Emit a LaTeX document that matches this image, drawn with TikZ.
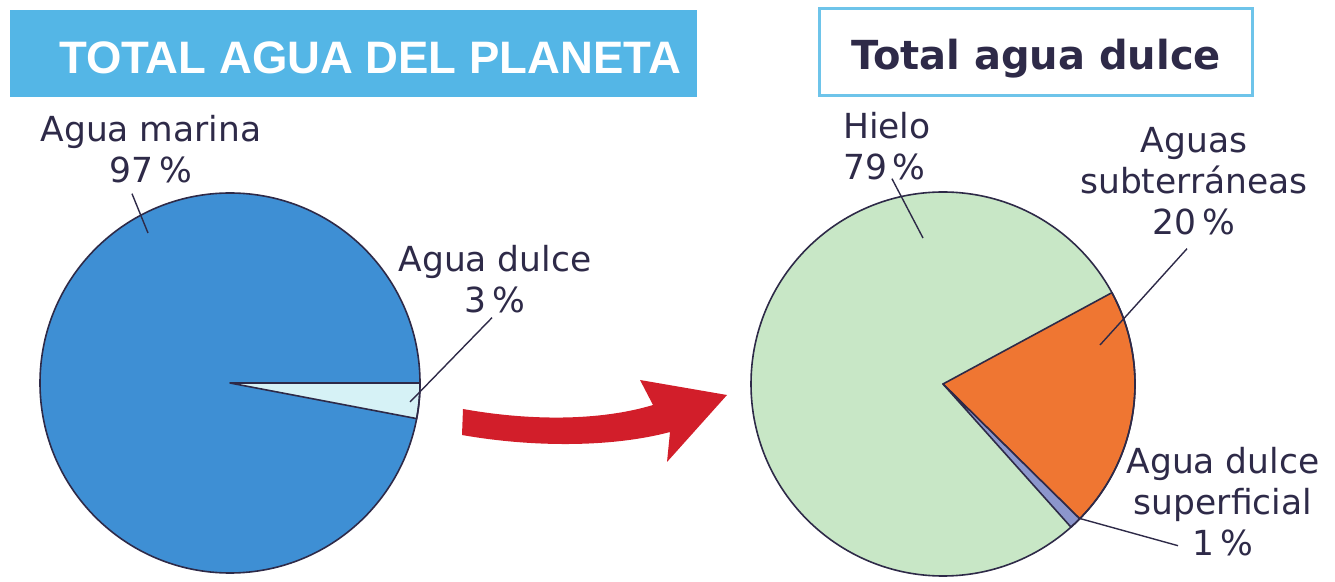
\documentclass[tikz,border=0pt]{standalone}
\usepackage{fontspec}
\setmainfont{DejaVu Sans}
\newfontfamily\barfont{Liberation Sans}

\definecolor{barblue}{RGB}{84,182,230}
\definecolor{framecyan}{RGB}{110,196,234}
\definecolor{seablue}{RGB}{62,143,212}
\definecolor{freshcyan}{RGB}{214,242,246}
\definecolor{icegreen}{RGB}{200,231,198}
\definecolor{groundorange}{RGB}{239,118,50}
\definecolor{surfblue}{RGB}{140,150,204}
\definecolor{inkdark}{RGB}{46,42,72}
\definecolor{arrowred}{RGB}{210,30,42}

\begin{document}
\begin{tikzpicture}[x=1pt, y=1pt,
	piece/.style = {draw = inkdark, line width = 1.6pt, line join = round},
	leader/.style = {draw = inkdark, line width = 1.4pt},
	lbl/.style = {font = \fontsize{34.5}{41}\selectfont, text = inkdark, align = center, inner sep = 0pt}]
	\useasboundingbox (0, 0) rectangle (1335, 581);

	% titles
	\node [fill = barblue, minimum width = 687pt, minimum height = 87pt, inner sep = 0pt] (bar) at (353.5, 527.5) {};
	\node [font = \barfont\bfseries\fontsize{45.5}{45.5}\selectfont, text = white, anchor = base, inner sep = 0pt] (bartext) at (370, 507) {TOTAL AGUA DEL PLANETA};

	\node [draw = framecyan, line width = 3pt, minimum width = 433pt, minimum height = 87pt, inner sep = 0pt] (frame) at (1036, 529) {};
	\node [font = \bfseries\fontsize{40}{40}\selectfont, text = inkdark, anchor = base, inner sep = 0pt] (frametext) at (1036, 511) {Total agua dulce};

	% left pie
	\coordinate (lc) at (230, 198);
	\fill [seablue] (lc) circle (190pt);
	\filldraw [piece, fill = freshcyan] (lc) -- ++(0:190pt) arc (0:-10.8:190pt) -- cycle;
	\draw [piece] (lc) circle (190pt);

	% right pie
	\coordinate (rc) at (943, 197);
	\fill [icegreen] (rc) circle (192pt);
	\filldraw [piece, fill = groundorange] (rc) -- ++(-44.6:192pt) arc (-44.6:28.4:192pt) -- cycle;
	\filldraw [piece, fill = surfblue] (rc) -- ++(-48.2:192pt) arc (-48.2:-44.6:192pt) -- cycle;
	\draw [piece] (rc) circle (192pt);

	% labels
	\node [lbl, anchor = base] (marina) at (151, 398) {Agua marina\\97\,\%};
	\node [lbl, anchor = base] (dulce) at (495, 268) {Agua dulce\\3\,\%};
	\node [lbl, align = left, anchor = base west] (hielo) at (843, 401) {Hielo\\79\,\%};
	\node [lbl, anchor = base] (subt) at (1194, 346) {Aguas\\subterráneas\\20\,\%};
	\node [lbl, anchor = base] (superficial) at (1223, 26) {Agua dulce\\superficial\\1\,\%};

	\coordinate (marinaend) at (148, 348);
	\coordinate (dulceend) at (410, 179);
	\coordinate (hieloend) at (923, 343);
	\coordinate (subtend) at (1100, 236);
	\coordinate (superend) at (1078, 63);

	\draw [leader] (marina.south) ++(-19, -10) -- (marinaend);
	\draw [leader] (dulce.south) ++(-3, -4) -- (dulceend);
	\draw [leader] (hielo.south) ++(5, 2) -- (hieloend);
	\draw [leader] (subt.south) ++(-7, -13) -- (subtend);
	\draw [leader] (superficial.south) ++(-45, 10) -- (superend);

	% arrow
	\coordinate (tailtop) at (463, 172);
	\coordinate (tailbot) at (462, 146);
	\coordinate (headin1) at (653, 176);
	\coordinate (headback1) at (640, 201);
	\coordinate (headtip) at (727, 186);
	\coordinate (headback2) at (667, 119);
	\coordinate (headin2) at (670, 149);

	\fill [arrowred] (tailtop) .. controls (530, 160) and (600, 160) .. (headin1) -- (headback1) -- (headtip) -- (headback2) -- (headin2) .. controls (610, 133) and (530, 134) .. (tailbot) -- cycle;
\end{tikzpicture}
\end{document}
